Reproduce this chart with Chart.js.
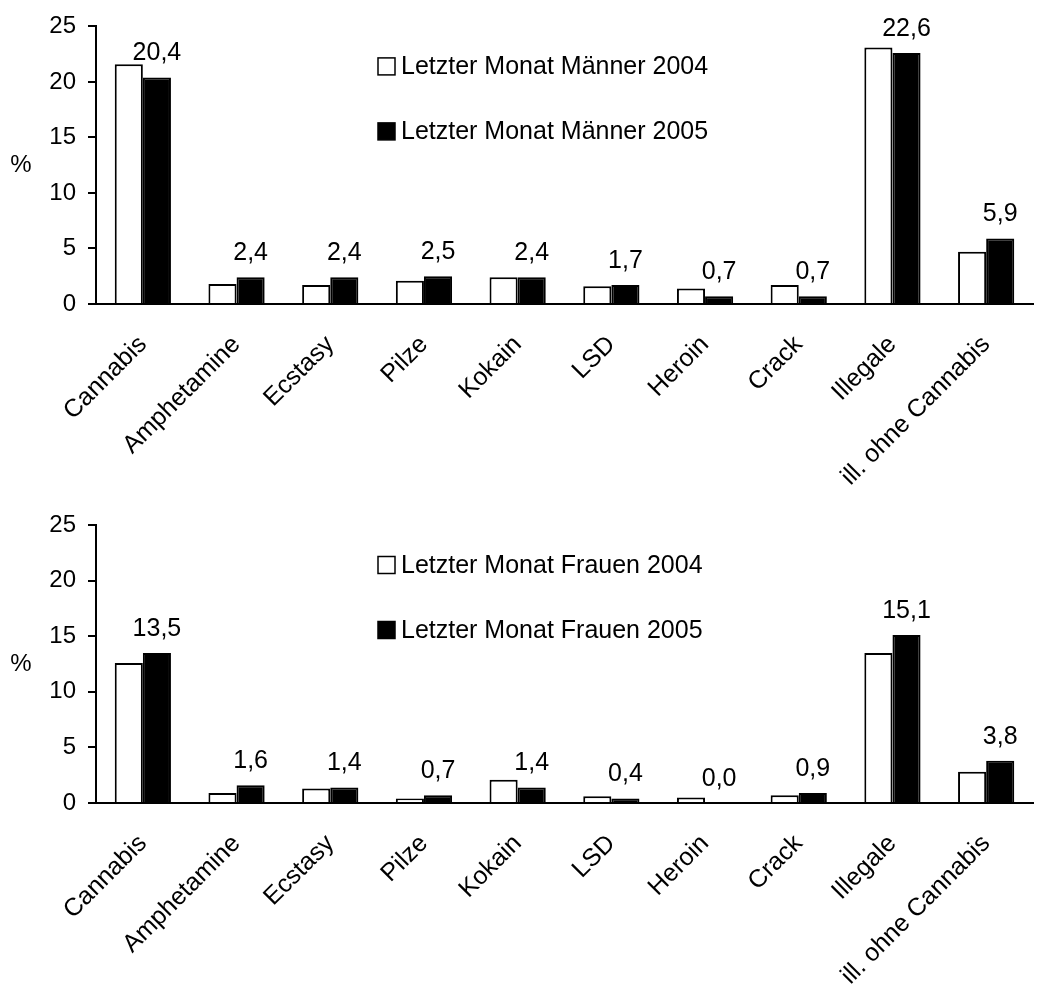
<!DOCTYPE html>
<html>
<head>
<meta charset="utf-8">
<script src="https://cdn.jsdelivr.net/npm/chart.js@4"></script>
<style>
  html, body { margin: 0; padding: 0; background: #fff; }
  #wrap { position: relative; width: 1039px; height: 984px; overflow: hidden; }
  .box { position: absolute; left: 0; width: 1039px; }
  #b1 { top: 0; height: 490px; }
  #b2 { top: 490px; height: 494px; }
</style>
</head>
<body>
<div id="wrap">
  <div class="box" id="b1"><canvas id="c1"></canvas></div>
  <div class="box" id="b2"><canvas id="c2"></canvas></div>
</div>
<script>
const categories = ["Cannabis", "Amphetamine", "Ecstasy", "Pilze", "Kokain", "LSD", "Heroin", "Crack", "Illegale", "ill. ohne Cannabis"];
const men2004 = [21.6, 1.8, 1.7, 2.1, 2.4, 1.6, 1.4, 1.7, 23.1, 4.7];
const men2005 = [20.4, 2.4, 2.4, 2.5, 2.4, 1.7, 0.7, 0.7, 22.6, 5.9];
const women2004 = [12.6, 0.9, 1.3, 0.4, 2.1, 0.6, 0.5, 0.7, 13.5, 2.8];
const women2005 = [13.5, 1.6, 1.4, 0.7, 1.4, 0.4, 0.0, 0.9, 15.1, 3.8];
const yTicks = [0, 5, 10, 15, 20, 25];
const legendMen = ["Letzter Monat Männer 2004", "Letzter Monat Männer 2005"];
const legendWomen = ["Letzter Monat Frauen 2004", "Letzter Monat Frauen 2005"];

const FONT = "'Liberation Sans', Arial, sans-serif";
const FS_TICK = 24;
const FS = 25;

const extrasPlugin = {
  id: 'extras',
  afterDatasetsDraw(chart) {
    const ctx = chart.ctx;
    const area = chart.chartArea;
    ctx.save();
    ctx.fillStyle = '#000';
    ctx.font = FS + 'px ' + FONT;
    const meta = chart.getDatasetMeta(1);
    const data = chart.data.datasets[1].data;
    ctx.textAlign = 'center';
    ctx.textBaseline = 'middle';
    meta.data.forEach((bar, i) => {
      const txt = data[i].toFixed(1).replace('.', ',');
      ctx.fillText(txt, bar.x, bar.y - 24);
    });
    ctx.font = FS_TICK + 'px ' + FONT;
    ctx.fillText('%', 21, (area.top + area.bottom) / 2);
    ctx.font = FS + 'px ' + FONT;
    const lx = 378, bs = 17;
    chart.data.datasets.forEach((ds, i) => {
      const cy = area.top + 40 + i * 65;
      ctx.lineWidth = 1.5;
      ctx.strokeStyle = '#000';
      ctx.fillStyle = ds.backgroundColor;
      ctx.fillRect(lx, cy - bs / 2, bs, bs);
      ctx.strokeRect(lx, cy - bs / 2, bs, bs);
      ctx.fillStyle = '#000';
      ctx.textAlign = 'left';
      ctx.fillText(ds.label, lx + bs + 6, cy + 1);
    });
    ctx.restore();
  }
};

function makeChart(id, labels, d1, d2, xHeight, padTop) {
  return new Chart(document.getElementById(id), {
    type: 'bar',
    data: {
      labels: categories,
      datasets: [
        { label: labels[0], data: d1, backgroundColor: '#ffffff', borderColor: '#000000', borderWidth: 2,
          categoryPercentage: 0.6, barPercentage: 1.0 },
        { label: labels[1], data: d2, backgroundColor: '#000000', borderColor: '#000000', borderWidth: 2,
          categoryPercentage: 0.6, barPercentage: 1.0 }
      ]
    },
    options: {
      responsive: true,
      maintainAspectRatio: false,
      animation: false,
      devicePixelRatio: 1,
      layout: { padding: { top: padTop, right: 6, left: 0, bottom: 0 } },
      plugins: { legend: { display: false }, tooltip: { enabled: false } },
      scales: {
        x: {
          grid: { display: false },
          border: { display: true, color: '#000', width: 2 },
          ticks: { color: '#000', font: { family: FONT, size: FS }, minRotation: 45, maxRotation: 45, autoSkip: false, padding: 18 },
          afterFit(scale) { scale.height = xHeight; }
        },
        y: {
          min: 0, max: 25,
          afterBuildTicks(scale) { scale.ticks = yTicks.map(v => ({ value: v })); },
          grid: { drawOnChartArea: false, drawTicks: true, tickLength: 8, color: '#000', lineWidth: 2 },
          border: { display: true, color: '#000', width: 2 },
          ticks: { color: '#000', font: { family: FONT, size: FS_TICK }, padding: 12 },
          afterFit(scale) { scale.width = 96; }
        }
      }
    },
    plugins: [extrasPlugin]
  });
}

makeChart('c1', legendMen, men2004, men2005, 186, 25);
makeChart('c2', legendWomen, women2004, women2005, 181, 35);
</script>
</body>
</html>
